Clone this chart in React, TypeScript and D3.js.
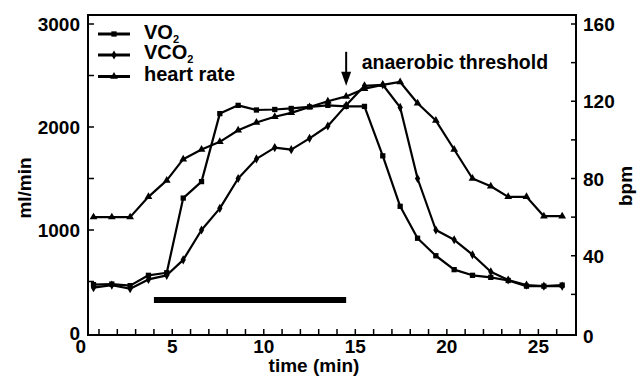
import { useEffect, useRef } from 'react';
import * as d3 from 'd3';

// time of each sample (min)
const times = [0.7, 1.7, 2.7, 3.7, 4.7, 5.6, 6.6, 7.6, 8.6, 9.6, 10.6, 11.5, 12.5, 13.5, 14.5, 15.5, 16.5, 17.45, 18.4, 19.4, 20.4, 21.4, 22.4, 23.35, 24.35, 25.3, 26.3];
// ml/min
const vo2 = [470, 475, 460, 560, 585, 1310, 1470, 2130, 2210, 2165, 2170, 2180, 2195, 2210, 2200, 2200, 1720, 1230, 920, 750, 615, 560, 540, 510, 455, 455, 465];
const vco2 = [440, 465, 430, 520, 560, 710, 1000, 1210, 1500, 1690, 1800, 1780, 1890, 2010, 2210, 2400, 2410, 2190, 1500, 1000, 905, 760, 595, 515, 465, 455, 455];
// bpm
const heartRate = [60, 60, 60, 70.5, 79, 90, 95, 99, 105, 109, 112, 114, 117, 120, 122.5, 126.5, 128.5, 130, 119, 110, 95, 80, 76, 70.5, 70.5, 60.5, 60.5];

const xTickLabels = [0, 5, 10, 15, 20, 25];
const mlTickLabels = [0, 1000, 2000, 3000];
const bpmTickLabels = [0, 40, 80, 120, 160];

const barSpan = [4, 14.5];
const barLevel = 320;
const thresholdTime = 14.5;

const FONT = '"Liberation Sans", Arial, sans-serif';

export default function App() {
    const svgRef = useRef<SVGSVGElement>(null);

    useEffect(() => {
        if (!svgRef.current) return;
        const svg = d3.select(svgRef.current);
        svg.selectAll('*').remove();

        const left = 88, right = 576, top = 15, bottom = 333;

        const x = d3.scaleLinear().domain([0, 27]).range([80.7, 575]);
        const yMl = d3.scaleLinear().domain([0, 3000]).range([bottom, 24]);
        const yBpm = d3.scaleLinear().domain([0, 160]).range([bottom, 24]);

        const g = svg.append('g').style('font-family', FONT).style('font-weight', 'bold');

        // frame
        g.append('rect')
            .attr('x', left).attr('y', top)
            .attr('width', right - left).attr('height', bottom + 2 - top)
            .attr('fill', 'none').attr('stroke', '#000').attr('stroke-width', 2);

        // bottom ticks
        g.selectAll('.xt')
            .data(d3.range(1, 27))
            .enter().append('line')
            .attr('x1', d => x(d)).attr('x2', d => x(d))
            .attr('y1', bottom + 2).attr('y2', bottom - 4)
            .attr('stroke', '#000').attr('stroke-width', 1.5);

        g.selectAll('.xl')
            .data(xTickLabels)
            .enter().append('text')
            .attr('x', d => x(d)).attr('y', 353)
            .attr('text-anchor', 'middle')
            .style('font-size', '19px')
            .text(d => d);

        // left ticks
        g.selectAll('.yt')
            .data(d3.range(500, 3001, 500))
            .enter().append('line')
            .attr('x1', left).attr('x2', left + 6)
            .attr('y1', d => yMl(d)).attr('y2', d => yMl(d))
            .attr('stroke', '#000').attr('stroke-width', 1.5);

        g.selectAll('.yl')
            .data(mlTickLabels)
            .enter().append('text')
            .attr('x', 80).attr('y', d => yMl(d) + 7)
            .attr('text-anchor', 'end')
            .style('font-size', '19px')
            .text(d => d);

        // right ticks
        g.selectAll('.rt')
            .data(d3.range(20, 161, 20))
            .enter().append('line')
            .attr('x1', right - 5).attr('x2', right)
            .attr('y1', d => yBpm(d)).attr('y2', d => yBpm(d))
            .attr('stroke', '#000').attr('stroke-width', 1.5);

        g.selectAll('.rl')
            .data(bpmTickLabels)
            .enter().append('text')
            .attr('x', 583).attr('y', d => yBpm(d) + 7 + (d === 0 ? 3 : 0))
            .style('font-size', '19px')
            .text(d => d);

        // axis titles
        g.append('text')
            .attr('x', 314).attr('y', 372)
            .attr('text-anchor', 'middle')
            .style('font-size', '19px')
            .text('time (min)');

        g.append('text')
            .attr('transform', 'translate(31,188) rotate(-90)')
            .attr('text-anchor', 'middle')
            .style('font-size', '19px')
            .text('ml/min');

        g.append('text')
            .attr('transform', 'translate(632,186) rotate(-90)')
            .attr('text-anchor', 'middle')
            .style('font-size', '19px')
            .text('bpm');

        // series
        const lineMl = d3.line<number>().x((_, i) => x(times[i])).y(d => yMl(d));
        const lineBpm = d3.line<number>().x((_, i) => x(times[i])).y(d => yBpm(d));

        const series = [
            { values: vo2, line: lineMl, y: yMl, symbol: d3.symbolSquare, size: 28 },
            { values: vco2, line: lineMl, y: yMl, symbol: d3.symbolDiamond, size: 24 },
            { values: heartRate, line: lineBpm, y: yBpm, symbol: d3.symbolTriangle, size: 26 },
        ];

        series.forEach(s => {
            g.append('path')
                .datum(s.values)
                .attr('fill', 'none')
                .attr('stroke', '#000')
                .attr('stroke-width', 2.2)
                .attr('stroke-linejoin', 'round')
                .attr('d', s.line);

            g.selectAll(null)
                .data(s.values)
                .enter().append('path')
                .attr('transform', (d, i) => `translate(${x(times[i])},${s.y(d)})`)
                .attr('d', d3.symbol().type(s.symbol).size(s.size)())
                .attr('fill', '#000');
        });

        // exercise bar
        g.append('line')
            .attr('x1', x(barSpan[0])).attr('x2', x(barSpan[1]))
            .attr('y1', yMl(barLevel)).attr('y2', yMl(barLevel))
            .attr('stroke', '#000').attr('stroke-width', 6);

        // threshold arrow
        const ax = x(thresholdTime);
        const tipY = yMl(2400);
        g.append('line')
            .attr('x1', ax).attr('x2', ax)
            .attr('y1', yMl(2730)).attr('y2', tipY - 8)
            .attr('stroke', '#000').attr('stroke-width', 2);
        g.append('path')
            .attr('d', `M${ax - 5},${tipY - 14} L${ax + 5},${tipY - 14} L${ax},${tipY} Z`)
            .attr('fill', '#000');
        g.append('text')
            .attr('x', x(15.35)).attr('y', yMl(2560))
            .style('font-size', '19.5px')
            .text('anaerobic threshold');

        // legend
        const legendRows = [
            { label: 'VO', sub: '2', symbol: d3.symbolSquare, size: 28, y: 34, ty: 39 },
            { label: 'VCO', sub: '2', symbol: d3.symbolDiamond, size: 24, y: 55, ty: 59 },
            { label: 'heart rate', sub: '', symbol: d3.symbolTriangle, size: 26, y: 76.5, ty: 81 },
        ];
        legendRows.forEach(r => {
            g.append('line')
                .attr('x1', 98).attr('x2', 130)
                .attr('y1', r.y).attr('y2', r.y)
                .attr('stroke', '#000').attr('stroke-width', 3);
            g.append('path')
                .attr('transform', `translate(114,${r.y})`)
                .attr('d', d3.symbol().type(r.symbol).size(r.size)())
                .attr('fill', '#000');
            const t = g.append('text')
                .attr('x', 144).attr('y', r.ty)
                .style('font-size', '20px')
                .text(r.label);
            if (r.sub) {
                t.append('tspan')
                    .attr('dy', 4)
                    .style('font-size', '11px')
                    .text(r.sub);
            }
        });
    }, []);

    return (
        <div style={{ position: 'absolute', left: 0, top: 0 }}>
            <svg ref={svgRef} width={644} height={386} style={{ display: 'block', background: '#fff' }} />
        </div>
    );
}
